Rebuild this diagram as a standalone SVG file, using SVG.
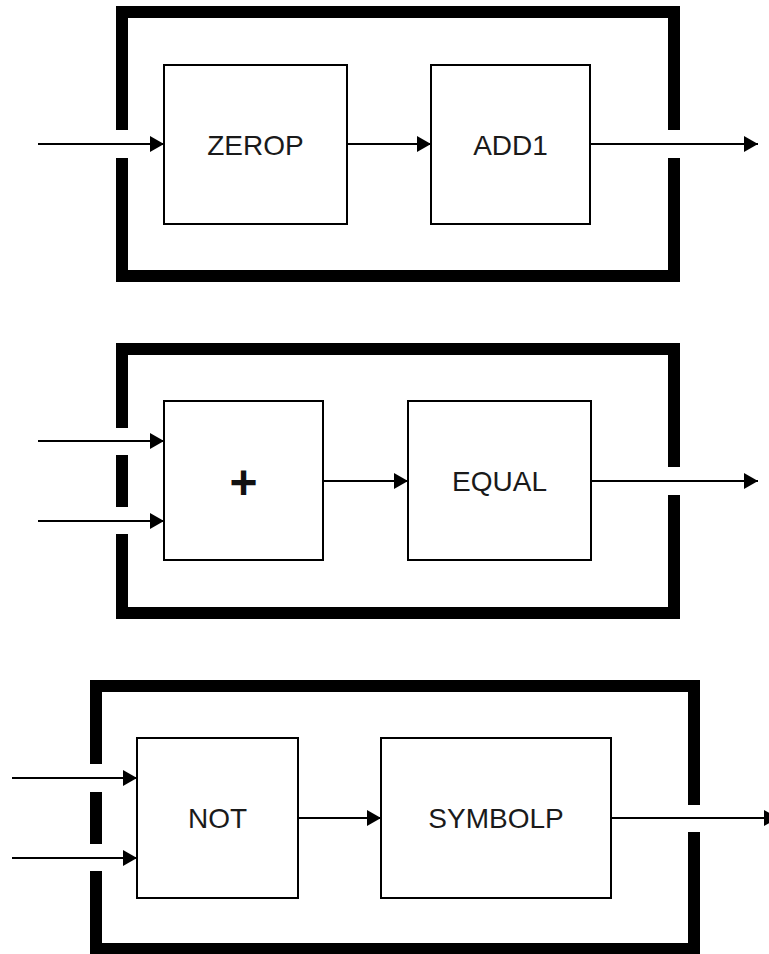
<svg xmlns="http://www.w3.org/2000/svg" width="769" height="954" viewBox="0 0 769 954">
<style>
.frame{fill:none;stroke:#000;stroke-width:12;stroke-linejoin:miter;stroke-linecap:butt}
.box{fill:#fff;stroke:#000;stroke-width:2}
.wire{fill:none;stroke:#000;stroke-width:2}
.lbl{font-family:"Liberation Sans",Arial,sans-serif;font-size:28px;fill:#1a1a1a;text-anchor:middle}
.plus{font-family:"Liberation Sans",Arial,sans-serif;font-size:48px;font-weight:bold;fill:#111;text-anchor:middle}
</style>
<defs>
<marker id="ah" markerUnits="userSpaceOnUse" markerWidth="14" markerHeight="16" refX="14" refY="8" orient="auto">
<path d="M0,0 L14,8 L0,16 z" fill="#000"/>
</marker>
</defs>
<rect width="769" height="954" fill="#fff"/>
<g id="frame1">
<path class="frame" d="M122,130 V12 H674 V130 M674,158 V276 H122 V158"/>
</g>
<g id="frame2">
<path class="frame" d="M122,428 V349 H674 V467 M674,495 V613 H122 V534 M122,455 V507"/>
</g>
<g id="frame3">
<path class="frame" d="M96,764 V686 H694 V805 M694,832 V949 H96 V871 M96,792 V844"/>
</g>
<g id="zerop"><rect class="box" x="164" y="65" width="183" height="159"/><text class="lbl" x="255.5" y="155">ZEROP</text></g>
<g id="add1"><rect class="box" x="431" y="65" width="159" height="159"/><text class="lbl" x="510.5" y="155">ADD1</text></g>
<g id="plus"><rect class="box" x="164" y="401" width="159" height="159"/><text class="plus" x="243.5" y="499">+</text></g>
<g id="equal"><rect class="box" x="408" y="401" width="183" height="159"/><text class="lbl" x="499.5" y="491">EQUAL</text></g>
<g id="not"><rect class="box" x="137" y="738" width="161" height="160"/><text class="lbl" x="217.5" y="828">NOT</text></g>
<g id="symbolp"><rect class="box" x="381" y="738" width="230" height="160"/><text class="lbl" x="496" y="828">SYMBOLP</text></g>
<g id="connectors">
<line class="wire" x1="38" y1="144" x2="164" y2="144" marker-end="url(#ah)"/>
<line class="wire" x1="347" y1="144" x2="431" y2="144" marker-end="url(#ah)"/>
<line class="wire" x1="590" y1="144" x2="758" y2="144" marker-end="url(#ah)"/>
<line class="wire" x1="38" y1="441" x2="164" y2="441" marker-end="url(#ah)"/>
<line class="wire" x1="38" y1="521" x2="164" y2="521" marker-end="url(#ah)"/>
<line class="wire" x1="323" y1="481" x2="408" y2="481" marker-end="url(#ah)"/>
<line class="wire" x1="591" y1="481" x2="758" y2="481" marker-end="url(#ah)"/>
<line class="wire" x1="12" y1="778" x2="137" y2="778" marker-end="url(#ah)"/>
<line class="wire" x1="12" y1="858" x2="137" y2="858" marker-end="url(#ah)"/>
<line class="wire" x1="298" y1="818" x2="381" y2="818" marker-end="url(#ah)"/>
<line class="wire" x1="611" y1="818" x2="778" y2="818" marker-end="url(#ah)"/>
</g>
</svg>
